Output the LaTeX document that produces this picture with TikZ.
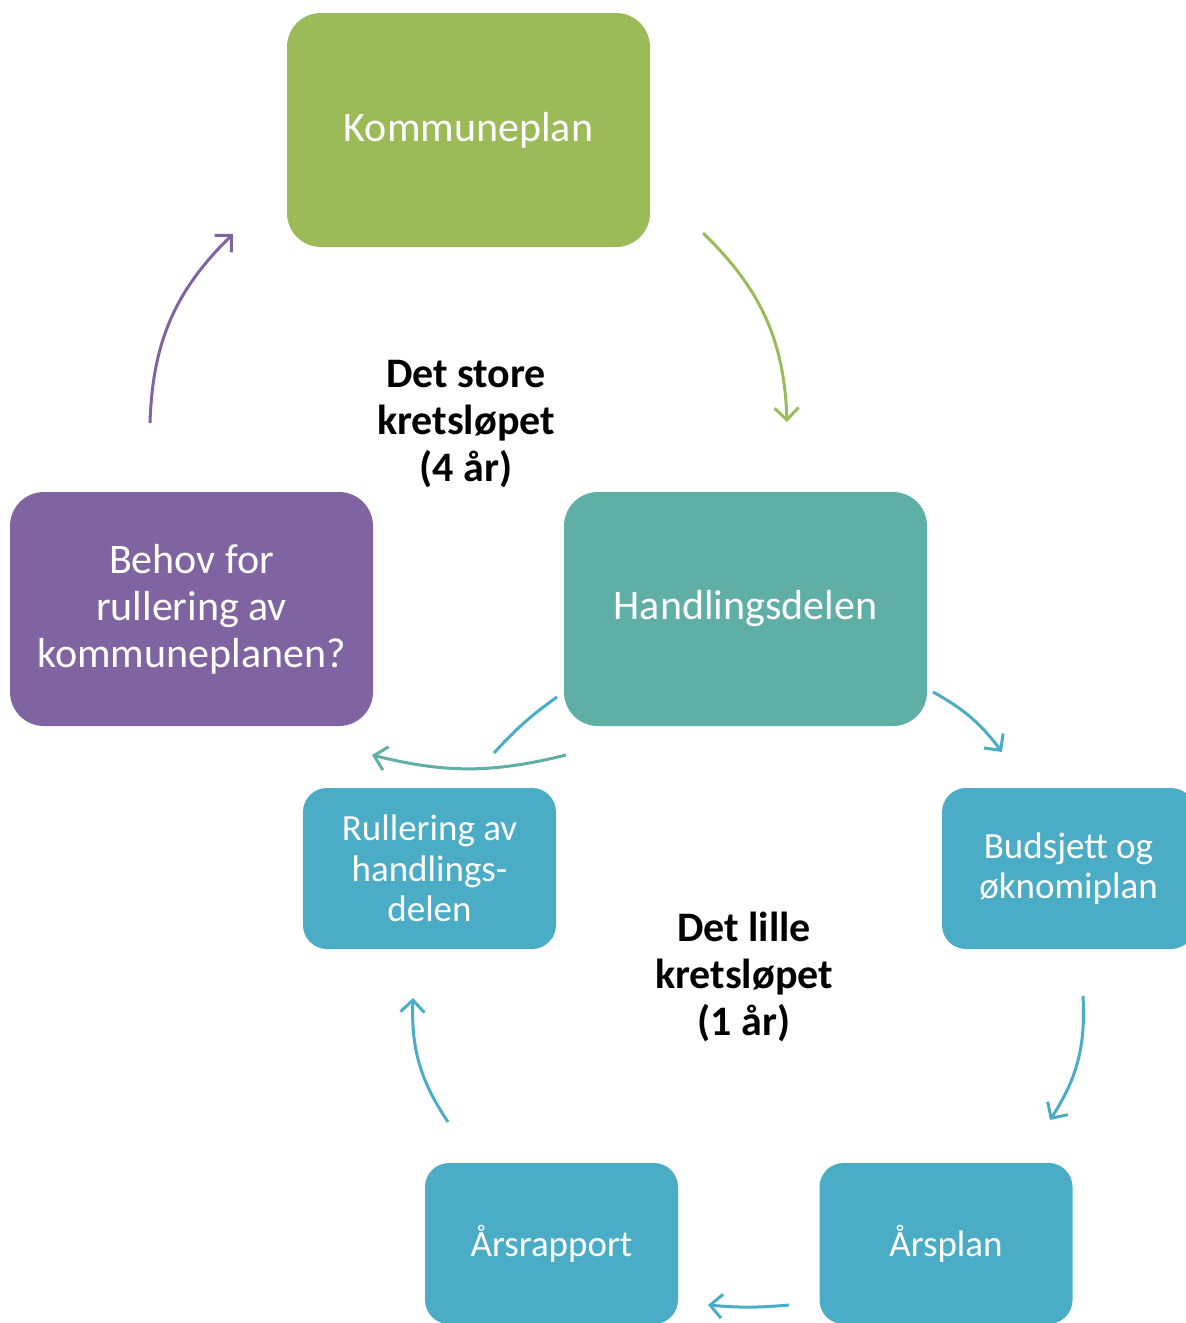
\documentclass[tikz,border=0pt]{standalone}
\usepackage{fontspec}
\setmainfont{Carlito}
\usetikzlibrary{arrows.meta}
\definecolor{cgreen}{HTML}{9BBB59}
\definecolor{cteal}{HTML}{5FAFA6}
\definecolor{cpurple}{HTML}{8064A2}
\definecolor{cblue}{HTML}{4BACC6}
\tikzset{
  bigbox/.style={rectangle, rounded corners=34pt, minimum width=363pt, minimum height=234pt, inner sep=0pt, text=white, align=center, font=\fontsize{42}{47}\selectfont},
  smallbox/.style={rectangle, rounded corners=24pt, minimum width=253pt, minimum height=161pt, inner sep=0pt, text=white, align=center, font=\fontsize{37}{40.5}\selectfont},
  cyclearrow/.style={line width=3pt, -{Straight Barb[length=12pt,width=24pt,line width=3pt]}},
  plainline/.style={line width=3pt},
  label/.style={align=center, font=\fontsize{42}{47}\selectfont\bfseries}
}
\begin{document}
\begin{tikzpicture}[x=1pt,y=-1pt]
\useasboundingbox (0,0) rectangle (1186,1323);
\node[bigbox, fill=cgreen] (komm) at (468.5,130) {Kommuneplan};
\node[bigbox, fill=cteal] (hand) at (745.5,609) {Handlingsdelen};
\node[bigbox, fill=cpurple] (behov) at (191.5,609) {Behov for\\rullering av\\kommuneplanen?};
\node[smallbox, fill=cblue] (rull) at (429.5,868.5) {Rullering av\\handlings-\\delen};
\node[smallbox, fill=cblue] (buds) at (1068.5,868.5) {Budsjett og\\øknomiplan};
\node[smallbox, fill=cblue] (arsp) at (946,1243.5) {Årsplan};
\node[smallbox, fill=cblue] (arsr) at (551.5,1243.5) {Årsrapport};
\node[label] (store) at (466,424) {Det store\\kretsløpet\\(4 år)};
\node[label] (lille) at (744,977) {Det lille\\kretsløpet\\(1 år)};
% arrow ends
\coordinate (p1s) at (150,423); \coordinate (p1e) at (233,234);
\coordinate (g1s) at (703,233); \coordinate (g1e) at (787,422);
\coordinate (b1s) at (933,692); \coordinate (b1e) at (1002,752);
\coordinate (b2s) at (1083,996); \coordinate (b2e) at (1050,1120);
\coordinate (b3s) at (789,1305); \coordinate (b3e) at (708,1305);
\coordinate (b4s) at (448,1122); \coordinate (b4e) at (413,998);
\coordinate (b5s) at (494,753); \coordinate (b5e) at (557,697);
\coordinate (t1s) at (566,755); \coordinate (t1e) at (372,755);
\draw[cyclearrow, cpurple] (p1s) to[bend left=22] (p1e);
\draw[cyclearrow, cgreen] (g1s) to[bend left=22] (g1e);
\draw[cyclearrow, cblue] (b1s) to[bend left=12] (b1e);
\draw[cyclearrow, cblue] (b2s) to[bend left=18] (b2e);
\draw[cyclearrow, cblue] (b3s) to[bend left=5] (b3e);
\draw[cyclearrow, cblue] (b4s) to[bend left=18] (b4e);
\draw[plainline, cblue] (b5s) to[bend left=6] (b5e);
\draw[cyclearrow, cteal] (t1s) to[bend left=14] (t1e);
\end{tikzpicture}
\end{document}
